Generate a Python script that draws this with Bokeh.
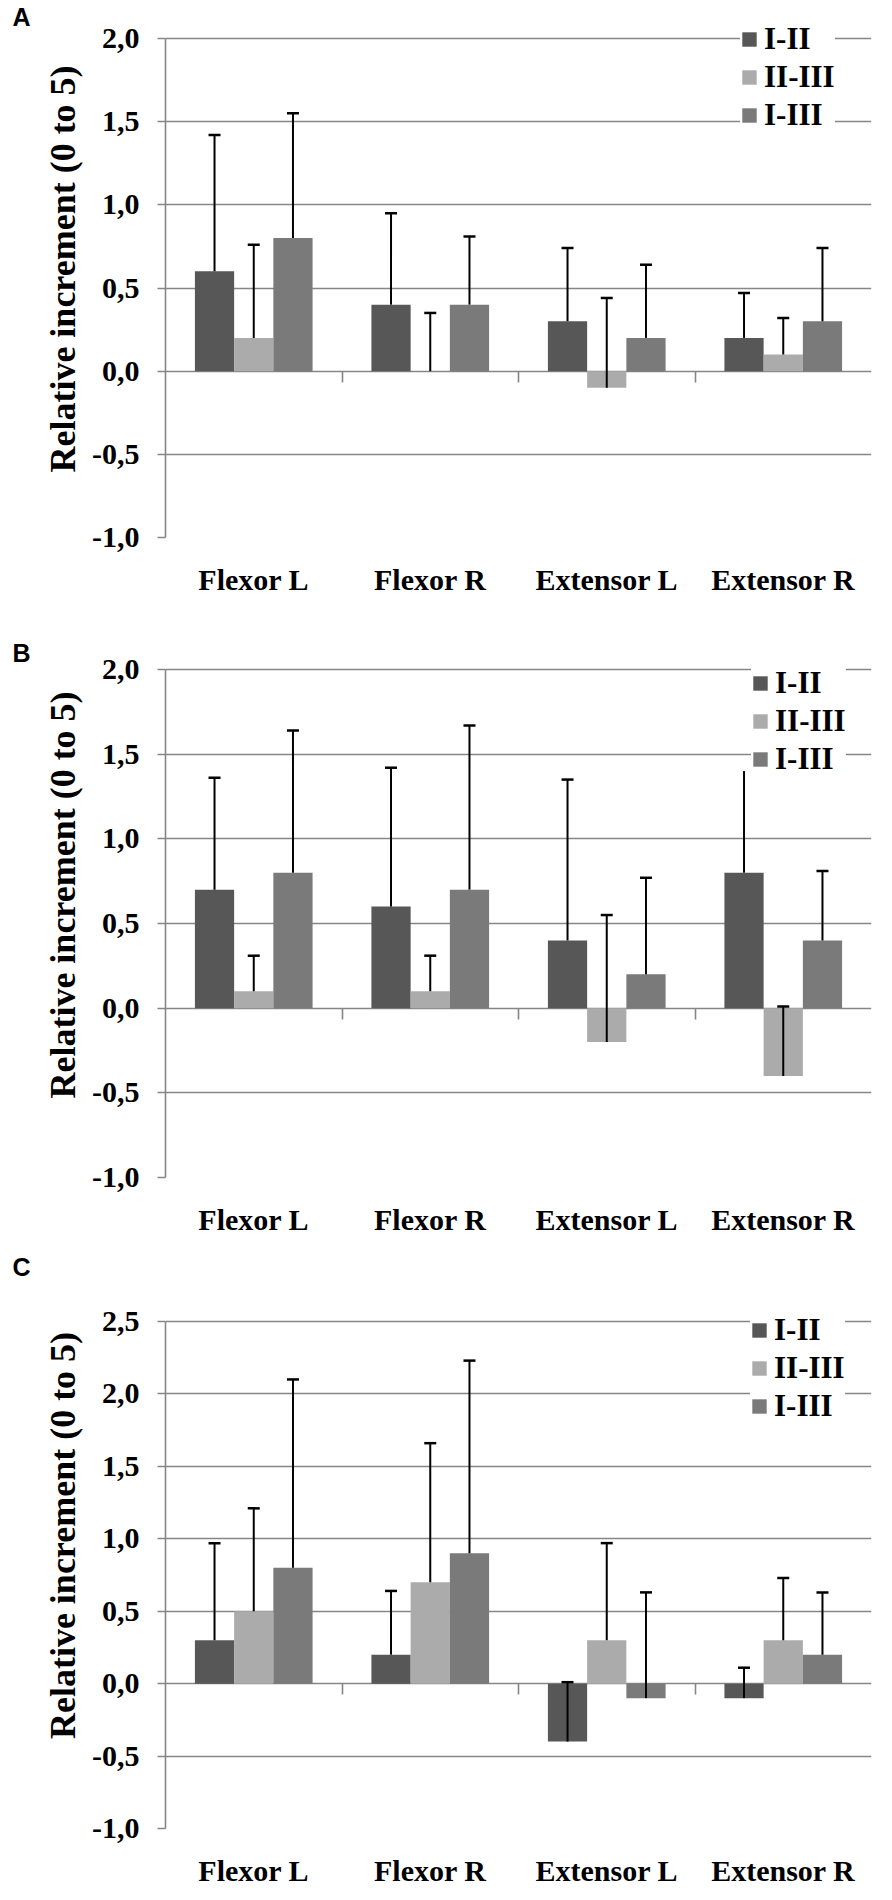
from bokeh.plotting import figure
from bokeh.models import (Range1d, FixedTicker, LinearAxis, Legend, LegendItem,
                          Whisker, TeeHead, ColumnDataSource)
from bokeh.layouts import column
from bokeh.embed import file_html
from bokeh.resources import INLINE

# ---------------- data ----------------
categories = ["Flexor L", "Flexor R", "Extensor L", "Extensor R"]
series_names = ["I-II", "II-III", "I-III"]
series_colors = ["#575757", "#ababab", "#7a7a7a"]

# Panel A
A_I_II = [0.6, 0.4, 0.3, 0.2]
A_II_III = [0.2, 0.0, -0.1, 0.1]
A_I_III = [0.8, 0.4, 0.2, 0.3]
A_I_II_err = [0.82, 0.55, 0.44, 0.27]
A_II_III_err = [0.56, 0.35, 0.54, 0.22]
A_I_III_err = [0.75, 0.41, 0.44, 0.44]

# Panel B
B_I_II = [0.7, 0.6, 0.4, 0.8]
B_II_III = [0.1, 0.1, -0.2, -0.4]
B_I_III = [0.8, 0.7, 0.2, 0.4]
B_I_II_err = [0.66, 0.82, 0.95, 0.60]
B_II_III_err = [0.21, 0.21, 0.75, 0.41]
B_I_III_err = [0.84, 0.97, 0.57, 0.41]
B_I_II_cap = [True, True, True, False]

# Panel C
C_I_II = [0.3, 0.2, -0.4, -0.1]
C_II_III = [0.5, 0.7, 0.3, 0.3]
C_I_III = [0.8, 0.9, -0.1, 0.2]
C_I_II_err = [0.67, 0.44, 0.41, 0.21]
C_II_III_err = [0.71, 0.96, 0.67, 0.43]
C_I_III_err = [1.30, 1.33, 0.73, 0.43]

y_ticks_ab = [-1.0, -0.5, 0.0, 0.5, 1.0, 1.5, 2.0]
y_tick_labels_ab = ["-1,0", "-0,5", "0,0", "0,5", "1,0", "1,5", "2,0"]
y_ticks_c = [-1.0, -0.5, 0.0, 0.5, 1.0, 1.5, 2.0, 2.5]
y_tick_labels_c = ["-1,0", "-0,5", "0,0", "0,5", "1,0", "1,5", "2,0", "2,5"]

y_title = "Relative increment (0 to 5)"
panel_letters = ["A", "B", "C"]

SERIF = "Liberation Serif"
SANS = "Liberation Sans"
GRID = "#868686"


def make_panel(letter, vals, errs, caps, yticks, ylabels, plot_px, top_px,
               bottom_px, bleft, bright, legend_loc, letter_px):
    ymin, ymax = yticks[0], yticks[-1]
    ppu = plot_px / (ymax - ymin)          # pixels per data unit
    ytop = ymax + top_px / ppu             # room above the top tick for legend / letter
    height = int(round(plot_px + top_px + bottom_px))
    p = figure(width=884, height=height,
               x_range=Range1d(-0.5, len(categories) - 0.5),
               y_range=Range1d(ymin, ytop),
               output_backend="svg", toolbar_location=None,
               min_border_top=0, min_border_bottom=int(bottom_px),
               min_border_left=bleft, min_border_right=bright)
    p.outline_line_color = None
    p.background_fill_color = "white"
    p.border_fill_color = "white"
    p.xgrid.visible = False
    p.ygrid.ticker = FixedTicker(ticks=yticks)
    p.ygrid.grid_line_color = GRID
    p.ygrid.grid_line_width = 1.6

    # y axis
    yax = p.yaxis[0]
    yax.ticker = FixedTicker(ticks=yticks)
    yax.bounds = (ymin, ymax)
    yax.major_label_overrides = {t: l for t, l in zip(yticks, ylabels)}
    yax.axis_line_color = GRID
    yax.axis_line_width = 1.6
    yax.major_tick_line_color = GRID
    yax.major_tick_line_width = 1.6
    yax.major_tick_out = 8
    yax.major_tick_in = 0
    yax.minor_tick_line_color = None
    yax.major_label_standoff = 18
    yax.major_label_text_font = SERIF
    yax.major_label_text_font_style = "bold"
    yax.major_label_text_font_size = "30px"
    yax.major_label_text_color = "black"
    yax.axis_label = y_title
    yax.axis_label_text_font = SERIF
    yax.axis_label_text_font_style = "bold"
    yax.axis_label_text_font_size = "36px"
    yax.axis_label_text_color = "black"
    yax.axis_label_standoff = 6

    # panel letter, shown as the only label of an outer left axis
    letter_y = ymax + letter_px / ppu
    lax = LinearAxis(ticker=FixedTicker(ticks=[letter_y]),
                     major_label_overrides={letter_y: letter},
                     axis_line_color=None, major_tick_line_color=None,
                     minor_tick_line_color=None, major_tick_out=0, major_tick_in=0,
                     major_label_standoff=10,
                     major_label_text_font=SANS, major_label_text_font_style="bold",
                     major_label_text_font_size="25px", major_label_text_color="black")
    p.add_layout(lax, "left")

    # x axis (category labels at the bottom)
    centers = list(range(len(categories)))
    xax = p.xaxis[0]
    xax.ticker = FixedTicker(ticks=centers)
    xax.major_label_overrides = {c: n for c, n in zip(centers, categories)}
    xax.axis_line_color = None
    xax.major_tick_line_color = None
    xax.minor_tick_line_color = None
    xax.major_tick_out = 0
    xax.major_tick_in = 0
    xax.major_label_standoff = 25
    xax.major_label_text_font = SERIF
    xax.major_label_text_font_style = "bold"
    xax.major_label_text_font_size = "30px"
    xax.major_label_text_color = "black"

    # category boundary tick marks hanging from the zero line
    bax = LinearAxis(fixed_location=0,
                     ticker=FixedTicker(ticks=[], minor_ticks=[c + 0.5 for c in centers[:-1]]),
                     axis_line_color=None, major_tick_out=0, major_tick_in=0,
                     major_label_standoff=0, major_tick_line_color=None,
                     minor_tick_out=11, minor_tick_in=0,
                     minor_tick_line_color=GRID, minor_tick_line_width=1.6)
    p.add_layout(bax, "below")

    # bars + error bars
    n = len(series_names)
    w = 1.0 / (n + 1.5)
    items = []
    for i in range(n):
        off = (i - (n - 1) / 2) * w
        xs = [c + off for c in centers]
        src = ColumnDataSource(dict(x=xs, top=vals[i]))
        r = p.vbar(x="x", top="top", bottom=0, width=w, source=src,
                   fill_color=series_colors[i], line_color=None)
        items.append(LegendItem(label=series_names[i], renderers=[r]))

        upper = [v + e for v, e in zip(vals[i], errs[i])]
        cap_flags = caps[i]
        for flag in (True, False):
            idx = [k for k in range(len(xs)) if cap_flags[k] == flag]
            if not idx:
                continue
            esrc = ColumnDataSource(dict(x=[xs[k] for k in idx],
                                         lo=[vals[i][k] for k in idx],
                                         up=[upper[k] for k in idx]))
            wk = Whisker(base="x", lower="lo", upper="up", source=esrc,
                         dimension="height", line_color="black", line_width=2,
                         lower_head=None,
                         upper_head=TeeHead(size=12, line_width=2.5, line_color="black") if flag else None,
                         level="overlay")
            p.add_layout(wk)

    legend = Legend(items=items, location=legend_loc,
                    glyph_width=18, glyph_height=18,
                    label_text_font=SERIF, label_text_font_style="bold",
                    label_text_font_size="31px", label_text_color="black",
                    label_standoff=6, spacing=2, padding=15, margin=0,
                    border_line_color=None, background_fill_color="white",
                    background_fill_alpha=1.0)
    p.add_layout(legend)
    return p


all_caps = [[True] * 4, [True] * 4, [True] * 4]

pA = make_panel(panel_letters[0], [A_I_II, A_II_III, A_I_III],
                [A_I_II_err, A_II_III_err, A_I_III_err],
                all_caps, y_ticks_ab, y_tick_labels_ab,
                plot_px=499, top_px=38, bottom_px=75, bleft=165, bright=12,
                legend_loc=(575, 404), letter_px=22)
pB = make_panel(panel_letters[1], [B_I_II, B_II_III, B_I_III],
                [B_I_II_err, B_II_III_err, B_I_III_err],
                [B_I_II_cap, [True] * 4, [True] * 4], y_ticks_ab, y_tick_labels_ab,
                plot_px=508, top_px=57, bottom_px=65, bleft=159, bright=13,
                legend_loc=(586, 400), letter_px=17)
pC = make_panel(panel_letters[2], [C_I_II, C_II_III, C_I_III],
                [C_I_II_err, C_II_III_err, C_I_III_err],
                all_caps, y_ticks_c, y_tick_labels_c,
                plot_px=507, top_px=79, bottom_px=64, bleft=160, bright=13,
                legend_loc=(585, 404), letter_px=55)

layout = column(pA, pB, pC, spacing=0)
open("out.html", "w").write(file_html(layout, INLINE))
